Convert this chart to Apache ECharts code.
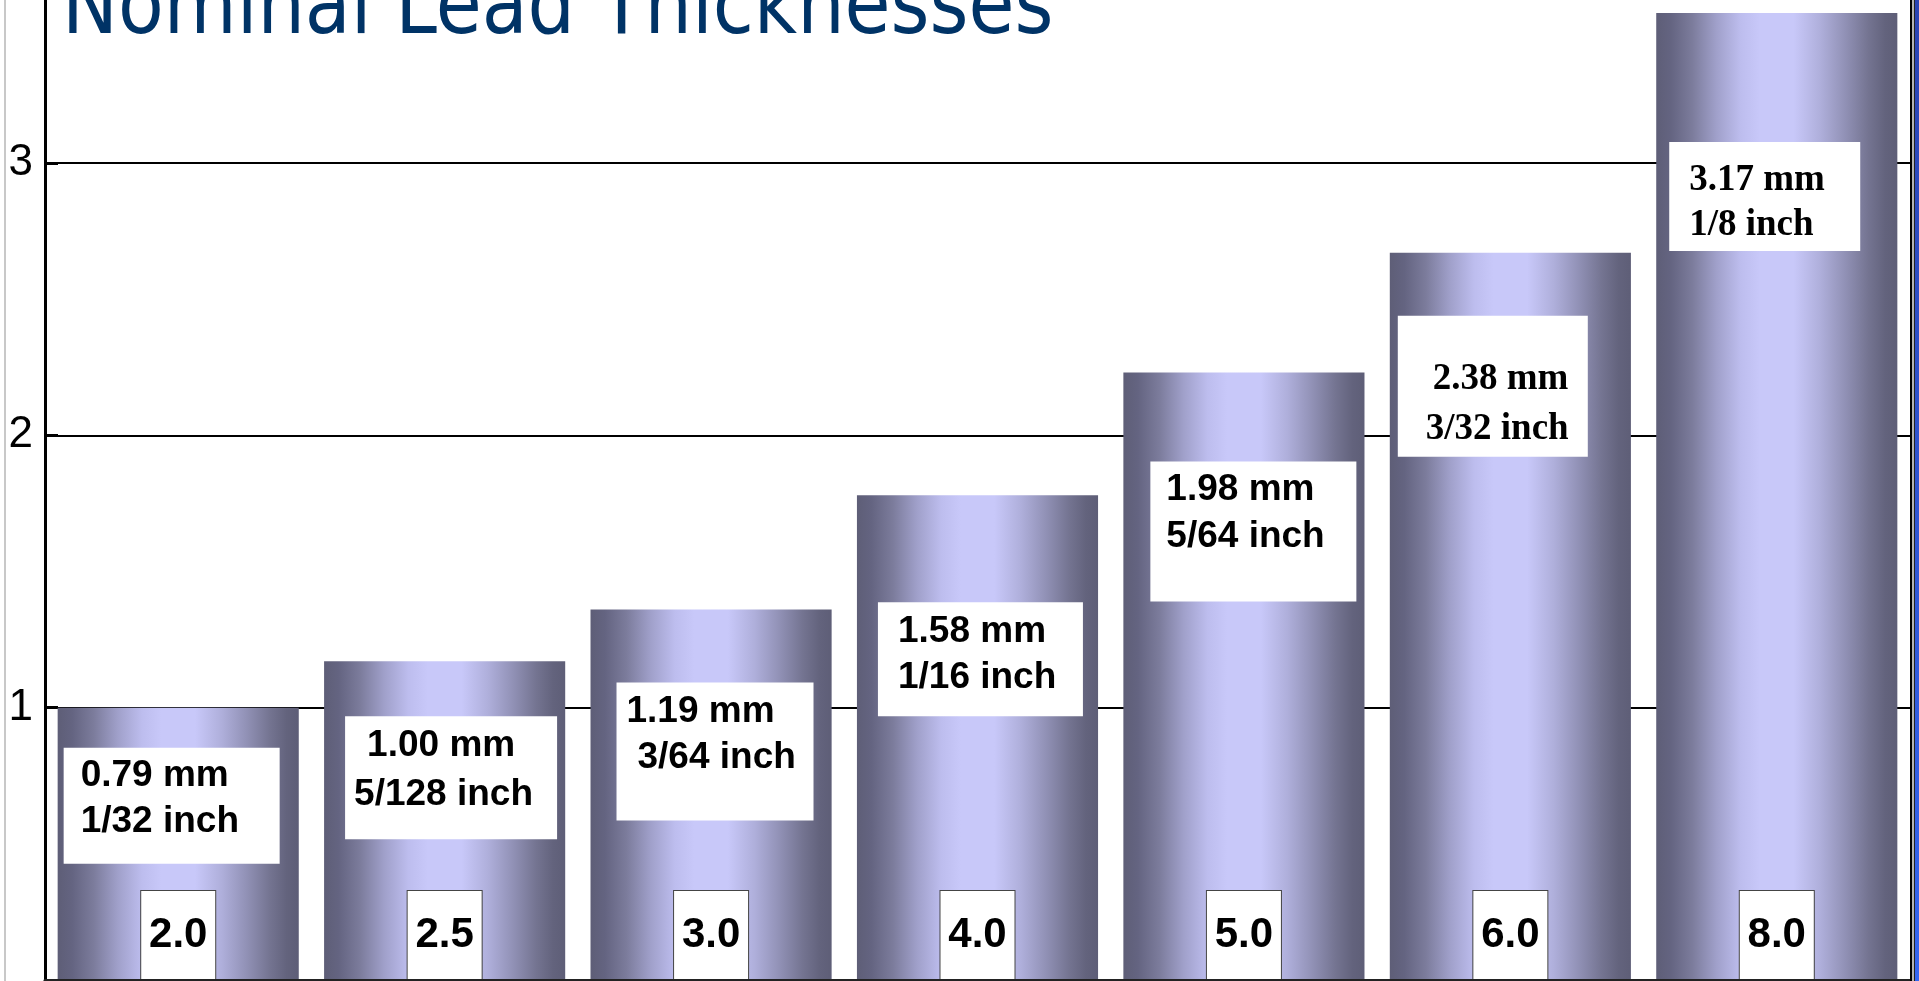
<!DOCTYPE html>
<html>
<head>
<meta charset="utf-8">
<title>Nominal Lead Thicknesses</title>
<script src="https://cdn.jsdelivr.net/npm/echarts@6/dist/echarts.min.js"></script>
<style>
  html, body { margin: 0; padding: 0; background: #ffffff; overflow: hidden; }
  #chart { width: 1919px; height: 981px; }
</style>
</head>
<body>
<div id="chart"></div>
<script>
// Sheet weights printed at the foot of each cylinder
const weights = ['2.0', '2.5', '3.0', '4.0', '5.0', '6.0', '8.0'];
// Cylinder heights on the value axis
const heights = [1.0, 1.17, 1.36, 1.78, 2.23, 2.67, 3.55];
// Thickness captions shown in the white boxes
const mmText = ['0.79 mm', '1.00 mm', '1.19 mm', '1.58 mm', '1.98 mm', '2.38 mm', '3.17 mm'];
const inchText = ['1/32 inch', '5/128 inch', '3/64 inch', '1/16 inch', '5/64 inch', '3/32 inch', '1/8 inch'];

// Placement of each caption box relative to the top-left corner of its cylinder
const captionBoxes = [
  { dx: 6,  dy: 40,  w: 216, h: 116, top: 5,  lh: 46, in1: 17, in2: 17, serif: false },
  { dx: 21, dy: 55,  w: 212, h: 123, top: 5,  lh: 49, in1: 22, in2: 9,  serif: false },
  { dx: 26, dy: 73,  w: 197, h: 138, top: 6,  lh: 46, in1: 10, in2: 21, serif: false },
  { dx: 21, dy: 107, w: 205, h: 114, top: 7,  lh: 46, in1: 20, in2: 20, serif: false },
  { dx: 27, dy: 89,  w: 206, h: 140, top: 5,  lh: 47, in1: 16, in2: 16, serif: false },
  { dx: 8,  dy: 63,  w: 190, h: 141, top: 39, lh: 50, in1: 35, in2: 28, serif: true },
  { dx: 13, dy: 129, w: 191, h: 109, top: 16, lh: 45, in1: 20, in2: 20, serif: true }
];

// Metallic cylinder shading, dark at the edges and pale lilac in the middle
const cylinderFill = () => new echarts.graphic.LinearGradient(0, 0, 1, 0, [
  { offset: 0.00, color: '#5e5e77' },
  { offset: 0.06, color: '#646481' },
  { offset: 0.15, color: '#7c7c9c' },
  { offset: 0.25, color: '#a0a0ca' },
  { offset: 0.35, color: '#bdbdee' },
  { offset: 0.43, color: '#c8c8f9' },
  { offset: 0.57, color: '#c8c8f9' },
  { offset: 0.68, color: '#afafdb' },
  { offset: 0.78, color: '#9292b7' },
  { offset: 0.88, color: '#747491' },
  { offset: 0.95, color: '#63637d' },
  { offset: 1.00, color: '#5e5e77' }
]);

const barData = heights.map((v, i) => {
  const b = captionBoxes[i];
  const family = b.serif ? '"Liberation Serif", "Times New Roman", serif'
                         : '"Liberation Sans", Arial, sans-serif';
  const lineStyle = (indent) => ({
    fontFamily: family, fontWeight: 'bold', fontSize: 37, color: '#000',
    lineHeight: b.lh, padding: [0, 0, 0, indent]
  });
  return {
    value: v,
    label: {
      show: true,
      position: [b.dx, b.dy],
      align: 'left',
      verticalAlign: 'top',
      backgroundColor: '#ffffff',
      width: b.w,
      height: b.h - b.top,
      padding: [b.top, 0, 0, 0],
      formatter: '{a|' + mmText[i] + '}\n{b|' + inchText[i] + '}',
      rich: { a: lineStyle(b.in1), b: lineStyle(b.in2) }
    }
  };
});

const chart = echarts.init(document.getElementById('chart'), null, { renderer: 'canvas' });

chart.setOption({
  animation: false,
  backgroundColor: '#ffffff',
  grid: { left: 45, right: 9, top: 0, height: 984, containLabel: false },
  xAxis: {
    type: 'category',
    data: weights,
    z: 5,
    axisLine: { show: true, lineStyle: { color: '#000', width: 3 } },
    axisTick: { show: false },
    axisLabel: {
      inside: true,
      margin: 0,
      interval: 0,
      color: '#000',
      fontFamily: '"Liberation Sans", Arial, sans-serif',
      fontWeight: 'bold',
      fontSize: 42,
      backgroundColor: '#ffffff',
      borderColor: '#444',
      borderWidth: 1,
      width: 74,
      height: 89,
      lineHeight: 89,
      align: 'center'
    },
    splitLine: { show: false }
  },
  yAxis: {
    type: 'value',
    min: 0,
    max: 3.598,
    interval: 1,
    axisLine: { show: true, lineStyle: { color: '#000', width: 3 } },
    axisTick: { show: true, inside: true, length: 13, lineStyle: { color: '#000', width: 3 } },
    axisLabel: {
      showMinLabel: false,
      showMaxLabel: false,
      margin: 12,
      color: '#000',
      fontFamily: '"Liberation Sans", Arial, sans-serif',
      fontSize: 44
    },
    splitLine: { show: true, showMaxLine: false, lineStyle: { color: '#000', width: 2 } }
  },
  series: [{
    type: 'bar',
    data: barData,
    barWidth: '90.5%',
    itemStyle: { color: cylinderFill() },
    emphasis: { disabled: true }
  }],
  graphic: [
    {
      type: 'text',
      x: 62, y: 11,
      scaleX: 0.87,
      z: 10,
      style: {
        text: 'Nominal Lead Thicknesses',
        fontFamily: '"DejaVu Sans", Verdana, sans-serif',
        fontSize: 86,
        fill: '#003366',
        align: 'left',
        verticalAlign: 'middle'
      }
    },
    // slide frame on the left
    { type: 'rect', z: 10, shape: { x: 4, y: 0, width: 2, height: 981 }, style: { fill: '#c8c8c8' } },
    // bottom edge of the plot
    { type: 'rect', z: 10, shape: { x: 44, y: 979, width: 1866, height: 2 }, style: { fill: '#222' } },
    // plot edge and slide frame on the right
    { type: 'rect', z: 10, shape: { x: 1910, y: 0, width: 2, height: 981 }, style: { fill: '#000' } },
    { type: 'rect', z: 10, shape: { x: 1912, y: 0, width: 2, height: 981 }, style: { fill: '#b4b4b4' } },
    { type: 'rect', z: 10, shape: { x: 1914, y: 0, width: 1, height: 981 }, style: { fill: '#222' } },
    {
      type: 'rect', z: 10, shape: { x: 1915, y: 0, width: 4, height: 981 },
      style: {
        fill: new echarts.graphic.LinearGradient(0, 0, 0, 1, [
          { offset: 0, color: '#2a44b2' },
          { offset: 1, color: '#3466f0' }
        ])
      }
    }
  ]
});
</script>
</body>
</html>
